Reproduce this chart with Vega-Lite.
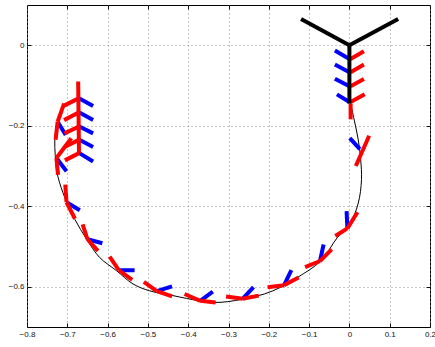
{
  "$schema": "https://vega.github.io/schema/vega-lite/v6.json",
  "width": 403,
  "height": 322,
  "autosize": {"type": "none"},
  "padding": {"left": 27, "top": 5, "right": 5, "bottom": 20},
  "background": "white",
  "view": {"stroke": "black", "strokeWidth": 1},
  "config": {
    "axis": {
      "labelFont": "Liberation Sans",
      "labelFontSize": 8,
      "labelColor": "#111",
      "tickColor": "#111",
      "tickSize": -4,
      "labelPadding": 7,
      "domain": false,
      "labelFlush": false,
      "labelOverlap": false,
      "title": null,
      "gridColor": "#8a8a8a",
      "gridDash": [1, 3],
      "gridWidth": 1,
      "gridOpacity": 1
    }
  },
  "datasets": {
    "curve": [
      {"i": 0, "x": -0.726, "y": -0.193},
      {"i": 1, "x": -0.731, "y": -0.235},
      {"i": 2, "x": -0.730, "y": -0.272},
      {"i": 3, "x": -0.727, "y": -0.309},
      {"i": 4, "x": -0.719, "y": -0.342},
      {"i": 5, "x": -0.702, "y": -0.389},
      {"i": 6, "x": -0.681, "y": -0.433},
      {"i": 7, "x": -0.652, "y": -0.482},
      {"i": 8, "x": -0.620, "y": -0.527},
      {"i": 9, "x": -0.578, "y": -0.560},
      {"i": 10, "x": -0.537, "y": -0.593},
      {"i": 11, "x": -0.496, "y": -0.610},
      {"i": 12, "x": -0.438, "y": -0.622},
      {"i": 13, "x": -0.372, "y": -0.635},
      {"i": 14, "x": -0.335, "y": -0.639},
      {"i": 15, "x": -0.302, "y": -0.637},
      {"i": 16, "x": -0.261, "y": -0.630},
      {"i": 17, "x": -0.211, "y": -0.618},
      {"i": 18, "x": -0.170, "y": -0.601},
      {"i": 19, "x": -0.129, "y": -0.577},
      {"i": 20, "x": -0.071, "y": -0.536},
      {"i": 21, "x": -0.030, "y": -0.478},
      {"i": 22, "x": -0.001, "y": -0.449},
      {"i": 23, "x": 0.022, "y": -0.392},
      {"i": 24, "x": 0.030, "y": -0.334},
      {"i": 25, "x": 0.028, "y": -0.285},
      {"i": 26, "x": 0.022, "y": -0.235},
      {"i": 27, "x": 0.012, "y": -0.186},
      {"i": 28, "x": 0.003, "y": -0.145}
    ],
    "segs": [
      {"x": -0.036, "y": -0.013, "x2": 0, "y2": -0.034, "c": "blue"},
      {"x": -0.036, "y": -0.048, "x2": 0, "y2": -0.067, "c": "blue"},
      {"x": -0.036, "y": -0.083, "x2": 0, "y2": -0.102, "c": "blue"},
      {"x": -0.031, "y": -0.122, "x2": 0, "y2": -0.141, "c": "blue"},
      {"x": 0.001, "y": -0.231, "x2": 0.026, "y2": -0.258, "c": "blue"},
      {"x": -0.007, "y": -0.412, "x2": -0.005, "y2": -0.455, "c": "blue"},
      {"x": -0.064, "y": -0.495, "x2": -0.073, "y2": -0.536, "c": "blue"},
      {"x": -0.144, "y": -0.559, "x2": -0.162, "y2": -0.596, "c": "blue"},
      {"x": -0.238, "y": -0.601, "x2": -0.265, "y2": -0.630, "c": "blue"},
      {"x": -0.339, "y": -0.612, "x2": -0.370, "y2": -0.635, "c": "blue"},
      {"x": -0.440, "y": -0.599, "x2": -0.478, "y2": -0.611, "c": "blue"},
      {"x": -0.533, "y": -0.559, "x2": -0.572, "y2": -0.559, "c": "blue"},
      {"x": -0.613, "y": -0.492, "x2": -0.650, "y2": -0.482, "c": "blue"},
      {"x": -0.669, "y": -0.410, "x2": -0.702, "y2": -0.390, "c": "blue"},
      {"x": -0.702, "y": -0.313, "x2": -0.727, "y2": -0.280, "c": "blue"},
      {"x": -0.704, "y": -0.223, "x2": -0.724, "y2": -0.190, "c": "blue"},
      {"x": -0.670, "y": -0.132, "x2": -0.636, "y2": -0.151, "c": "blue"},
      {"x": -0.670, "y": -0.167, "x2": -0.636, "y2": -0.186, "c": "blue"},
      {"x": -0.670, "y": -0.202, "x2": -0.636, "y2": -0.219, "c": "blue"},
      {"x": -0.670, "y": -0.235, "x2": -0.636, "y2": -0.253, "c": "blue"},
      {"x": -0.670, "y": -0.268, "x2": -0.636, "y2": -0.289, "c": "blue"},
      {"x": 0.003, "y": -0.034, "x2": 0.036, "y2": -0.015, "c": "red"},
      {"x": 0.003, "y": -0.067, "x2": 0.036, "y2": -0.048, "c": "red"},
      {"x": 0.003, "y": -0.102, "x2": 0.036, "y2": -0.084, "c": "red"},
      {"x": 0.003, "y": -0.141, "x2": 0.038, "y2": -0.122, "c": "red"},
      {"x": 0.003, "y": -0.145, "x2": 0.003, "y2": -0.184, "c": "red"},
      {"x": 0.049, "y": -0.225, "x2": 0.016, "y2": -0.300, "c": "red"},
      {"x": 0.020, "y": -0.415, "x2": -0.005, "y2": -0.455, "c": "red"},
      {"x": -0.035, "y": -0.474, "x2": -0.005, "y2": -0.455, "c": "red"},
      {"x": -0.044, "y": -0.507, "x2": -0.073, "y2": -0.536, "c": "red"},
      {"x": -0.110, "y": -0.551, "x2": -0.073, "y2": -0.536, "c": "red"},
      {"x": -0.126, "y": -0.577, "x2": -0.162, "y2": -0.596, "c": "red"},
      {"x": -0.203, "y": -0.601, "x2": -0.162, "y2": -0.596, "c": "red"},
      {"x": -0.225, "y": -0.622, "x2": -0.265, "y2": -0.630, "c": "red"},
      {"x": -0.306, "y": -0.624, "x2": -0.265, "y2": -0.630, "c": "red"},
      {"x": -0.332, "y": -0.639, "x2": -0.370, "y2": -0.635, "c": "red"},
      {"x": -0.409, "y": -0.618, "x2": -0.370, "y2": -0.635, "c": "red"},
      {"x": -0.440, "y": -0.624, "x2": -0.478, "y2": -0.611, "c": "red"},
      {"x": -0.510, "y": -0.588, "x2": -0.478, "y2": -0.611, "c": "red"},
      {"x": -0.539, "y": -0.583, "x2": -0.572, "y2": -0.559, "c": "red"},
      {"x": -0.595, "y": -0.525, "x2": -0.572, "y2": -0.559, "c": "red"},
      {"x": -0.624, "y": -0.511, "x2": -0.650, "y2": -0.482, "c": "red"},
      {"x": -0.662, "y": -0.445, "x2": -0.650, "y2": -0.482, "c": "red"},
      {"x": -0.681, "y": -0.431, "x2": -0.702, "y2": -0.390, "c": "red"},
      {"x": -0.705, "y": -0.346, "x2": -0.702, "y2": -0.390, "c": "red"},
      {"x": -0.723, "y": -0.322, "x2": -0.727, "y2": -0.280, "c": "red"},
      {"x": -0.690, "y": -0.231, "x2": -0.727, "y2": -0.280, "c": "red"},
      {"x": -0.708, "y": -0.145, "x2": -0.724, "y2": -0.190, "c": "red"},
      {"x": -0.729, "y": -0.235, "x2": -0.724, "y2": -0.190, "c": "red"},
      {"x": -0.673, "y": -0.090, "x2": -0.671, "y2": -0.268, "c": "red"},
      {"x": -0.708, "y": -0.150, "x2": -0.672, "y2": -0.132, "c": "red"},
      {"x": -0.708, "y": -0.186, "x2": -0.672, "y2": -0.167, "c": "red"},
      {"x": -0.707, "y": -0.219, "x2": -0.671, "y2": -0.202, "c": "red"},
      {"x": -0.707, "y": -0.253, "x2": -0.671, "y2": -0.235, "c": "red"},
      {"x": -0.706, "y": -0.286, "x2": -0.671, "y2": -0.268, "c": "red"},
      {"x": -0.120, "y": 0.065, "x2": 0, "y2": 0, "c": "black"},
      {"x": 0.121, "y": 0.065, "x2": 0, "y2": 0, "c": "black"},
      {"x": 0, "y": 0, "x2": 0, "y2": -0.145, "c": "black"}
    ]
  },
  "resolve": {"axis": {"x": "independent", "y": "independent"}},
  "layer": [
    {
      "data": {"name": "curve"},
      "mark": {"type": "line", "color": "black", "strokeWidth": 1, "interpolate": "catmull-rom", "clip": true},
      "encoding": {
        "x": {
          "field": "x", "type": "quantitative",
          "scale": {"domain": [-0.8, 0.2], "nice": false, "zero": false},
          "axis": {"orient": "bottom", "grid": true, "format": ".1~f",
                   "values": [-0.8, -0.7, -0.6, -0.5, -0.4, -0.3, -0.2, -0.1, 0, 0.1, 0.2]}
        },
        "y": {
          "field": "y", "type": "quantitative",
          "scale": {"domain": [-0.7, 0.1], "nice": false, "zero": false},
          "axis": {"orient": "left", "grid": true, "format": ".1~f",
                   "values": [-0.6, -0.4, -0.2, 0]}
        },
        "order": {"field": "i", "type": "quantitative"}
      }
    },
    {
      "data": {"name": "segs"},
      "mark": {"type": "rule", "strokeWidth": 4, "strokeCap": "butt", "clip": true},
      "encoding": {
        "x": {
          "field": "x", "type": "quantitative",
          "axis": {"orient": "top", "grid": false, "labels": false,
                   "values": [-0.8, -0.7, -0.6, -0.5, -0.4, -0.3, -0.2, -0.1, 0, 0.1, 0.2]}
        },
        "y": {
          "field": "y", "type": "quantitative",
          "axis": {"orient": "right", "grid": false, "labels": false,
                   "values": [-0.6, -0.4, -0.2, 0]}
        },
        "x2": {"field": "x2"},
        "y2": {"field": "y2"},
        "color": {
          "field": "c", "type": "nominal", "legend": null,
          "scale": {"domain": ["blue", "red", "black"], "range": ["#0000ff", "#ff0000", "#000000"]}
        }
      }
    }
  ]
}
